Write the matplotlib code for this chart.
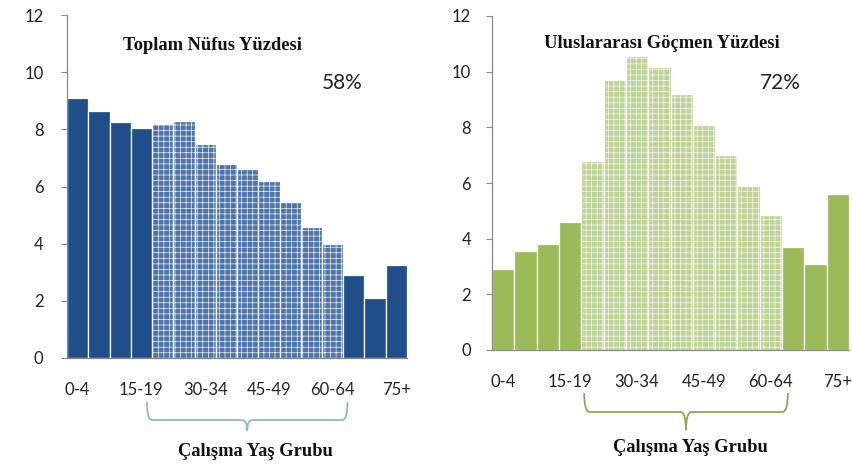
import numpy as np
import matplotlib
matplotlib.use("Agg")
import matplotlib.pyplot as plt
from matplotlib.path import Path
from matplotlib.patches import PathPatch
from matplotlib.transforms import blended_transform_factory

# age groups (16 bars), only every third one is labelled
age_groups = ["0-4", "5-9", "10-14", "15-19", "20-24", "25-29", "30-34", "35-39",
              "40-44", "45-49", "50-54", "55-59", "60-64", "65-69", "70-74", "75+"]
shown_labels = ["0-4", "15-19", "30-34", "45-49", "60-64", "75+"]

total_pop = [9.1, 8.65, 8.25, 8.05, 8.2, 8.3, 7.5, 6.78, 6.6, 6.18, 5.45, 4.6,
             4.0, 2.92, 2.1, 3.25]
migrants = [2.9, 3.55, 3.8, 4.6, 6.8, 9.7, 10.55, 10.15, 9.2, 8.1, 7.0, 5.9,
            4.85, 3.7, 3.1, 5.6]
working = [False] * 4 + [True] * 9 + [False] * 3

plt.rcParams["font.family"] = ["Lato", "DejaVu Sans"]
plt.rcParams["hatch.linewidth"] = 0.45

W, H = 852, 472
fig = plt.figure(figsize=(W / 100, H / 100), dpi=100)


def px_axes(x0, x1, ytop, ybot):
    return fig.add_axes([x0 / W, 1 - ybot / H, (x1 - x0) / W, (ybot - ytop) / H])


def draw_panel(ax, values, solid, light, title, title_xy, pct, pct_xy, ypad):
    x = np.arange(len(values))
    for xi, v, w in zip(x, values, working):
        if w:
            ax.bar(xi, v, width=1.0, color=light, edgecolor="white",
                   linewidth=0.9, hatch="+++")
        else:
            ax.bar(xi, v, width=1.0, color=solid, edgecolor="white",
                   linewidth=0.9)
    ax.set_xlim(-0.5, len(values) - 0.5)
    ax.set_ylim(0, 12)
    ax.set_yticks(range(0, 13, 2))
    ax.set_xticks([age_groups.index(s) for s in shown_labels])
    ax.set_xticklabels(shown_labels)
    ax.tick_params(axis="x", length=0, pad=17, labelsize=12, labelcolor="#222222")
    ax.tick_params(axis="y", length=4, width=0.8, color="#888888",
                   labelsize=12, labelcolor="#222222", pad=ypad)
    for s in ["top", "right"]:
        ax.spines[s].set_visible(False)
    for s in ["left", "bottom"]:
        ax.spines[s].set_color("#888888")
        ax.spines[s].set_linewidth(0.9)
    fig.text(title_xy[0] / W, 1 - title_xy[1] / H, title, ha="center", va="center",
             family="Liberation Serif", fontweight="bold", fontsize=13.3,
             color="#111111")
    fig.text(pct_xy[0] / W, 1 - pct_xy[1] / H, pct, ha="center", va="center",
             fontsize=15, color="#222222")


def brace(ax, x0, x1, ytop, ymid, ybot, color):
    tr = blended_transform_factory(ax.transData, fig.transFigure)
    yt, ym, yb = 1 - ytop / H, 1 - ymid / H, 1 - ybot / H
    xm = (x0 + x1) / 2
    r = 0.25
    verts = [(x0, yt), (x0, ym), (x0 + r, ym),
             (xm - r, ym), (xm, ym), (xm, yb),
             (xm, ym), (xm + r, ym),
             (x1 - r, ym), (x1, ym), (x1, yt)]
    codes = [Path.MOVETO, Path.CURVE3, Path.CURVE3,
             Path.LINETO, Path.CURVE3, Path.CURVE3,
             Path.CURVE3, Path.CURVE3,
             Path.LINETO, Path.CURVE3, Path.CURVE3]
    p = PathPatch(Path(verts, codes), transform=tr, fill=False, edgecolor=color,
                  linewidth=1.3, clip_on=False)
    fig.add_artist(p)


ax1 = px_axes(67, 407, 15, 358)
draw_panel(ax1, total_pop, "#1F4E8A", "#4E74AC", "Toplam Nüfus Yüzdesi", (212, 45),
           "58%", (342, 83), 13)
brace(ax1, 3.26, 12.7, 402, 420, 431, "#8DB3E2")
fig.text(255 / W, 1 - 452 / H, "Çalışma Yaş Grubu", ha="center", va="center",
         family="Liberation Serif", fontweight="bold", fontsize=13.3, color="#111111")

ax2 = px_axes(492, 849, 16, 350)
draw_panel(ax2, migrants, "#9BBB59", "#BED495", "Uluslararası Göçmen Yüzdesi", (662, 43),
           "72%", (780, 83), 11)
brace(ax2, 3.63, 12.76, 393, 412, 430, "#8FA85A")
fig.text(690 / W, 1 - 448 / H, "Çalışma Yaş Grubu", ha="center", va="center",
         family="Liberation Serif", fontweight="bold", fontsize=13.3, color="#111111")

plt.savefig("out.png", dpi=100)
